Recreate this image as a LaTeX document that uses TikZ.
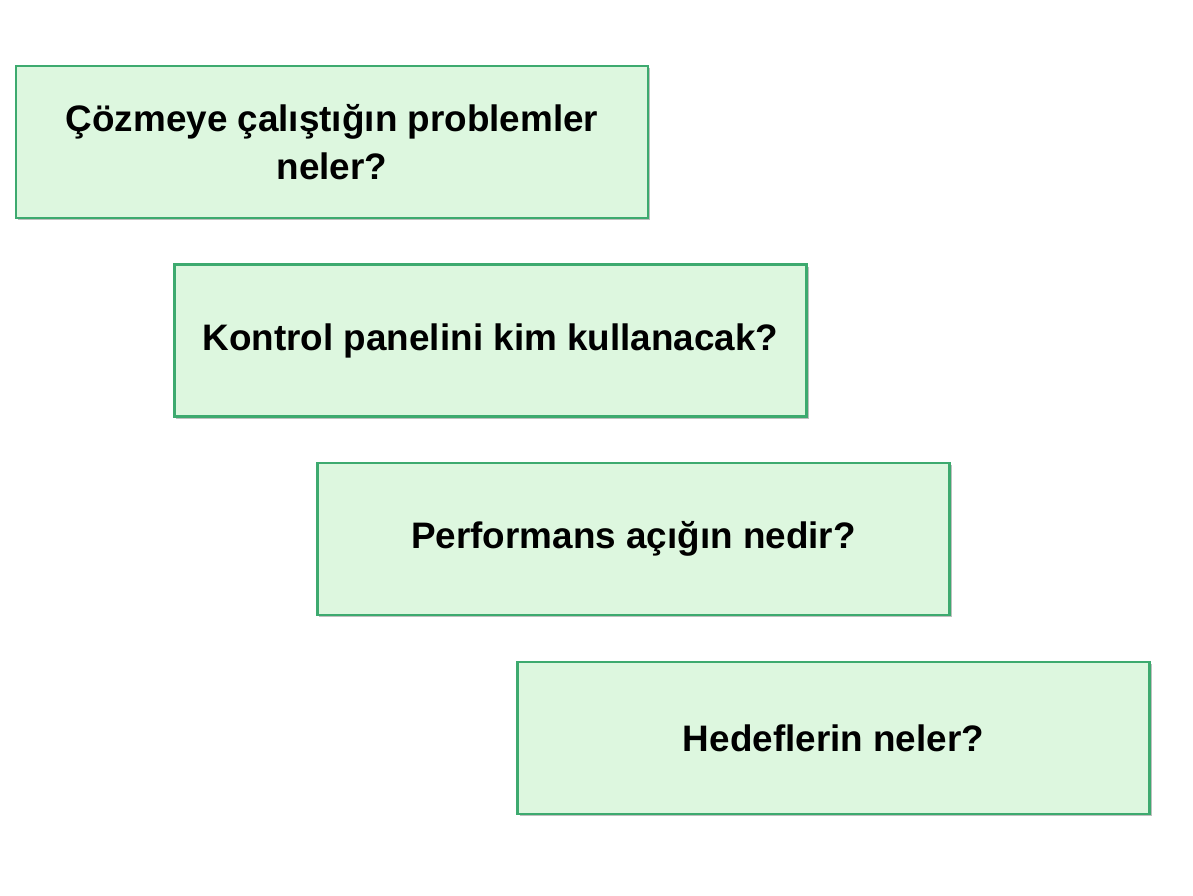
\documentclass[tikz,border=0pt]{standalone}
\usepackage{fontspec}
\setmainfont{Liberation Sans}
\usetikzlibrary{shadows}
\definecolor{boxfill}{HTML}{DDF7DF}
\definecolor{boxline}{HTML}{3DAA6F}
\begin{document}
\begin{tikzpicture}[x=1bp,y=1bp,
  qbox/.style={draw=boxline, line width=2.2bp, fill=boxfill,
    minimum width=632bp, minimum height=152bp, inner sep=0pt,
    align=center, font=\fontsize{37}{48}\selectfont\bfseries,
    drop shadow={shadow xshift=2bp, shadow yshift=-2.5bp, opacity=0.5, fill=black!50}}]
\useasboundingbox (0,0) rectangle (1193,896);
\fill[white] (0,0) rectangle (1193,896);
\node[qbox] (q1) at (332,754) {Çözmeye çalıştığın problemler\\neler?};
\node[qbox] (q2) at (490.5,555.5) {Kontrol panelini kim kullanacak?};
\node[qbox] (q3) at (633.5,357) {Performans açığın nedir?};
\node[qbox] (q4) at (833.5,158) {Hedeflerin neler?};
\end{tikzpicture}
\end{document}
